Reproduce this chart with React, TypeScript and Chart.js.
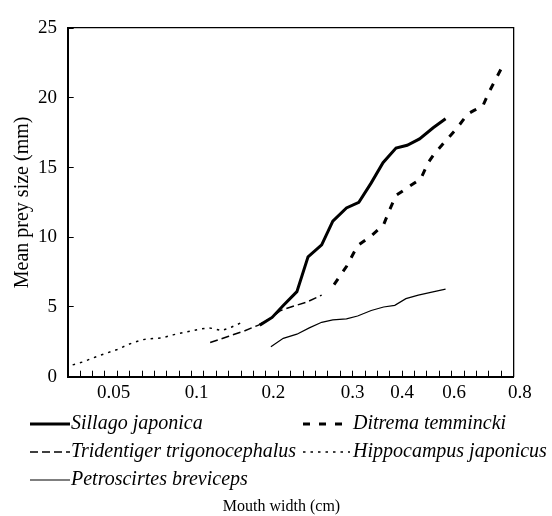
import React, { useEffect, useRef } from "react";
import { Chart, registerables } from "chart.js";

Chart.register(...registerables);

const FONT = "'Liberation Serif', 'Times New Roman', serif";

// x axis: evenly spaced divisions (0..36); mouth-width labels sit at these positions
const xTickLabels = ["0.05", "0.1", "0.2", "0.3", "0.4", "0.6", "0.8"];
const xTickPositions = [3.7, 10.4, 16.6, 23.0, 27.0, 31.2, 36.5];
const yTickStep = 5;

const seriesNames = [
  "Sillago japonica",
  "Ditrema temmincki",
  "Tridentiger trigonocephalus",
  "Hippocampus japonicus",
  "Petroscirtes breviceps",
];

// positions on the x axis (division units) and mean prey size (mm)
const sillagoX = [15.5, 16.5, 17.4, 18.5, 19.4, 20.5, 21.4, 22.5, 23.5, 24.5, 25.45, 26.5, 27.4, 28.4, 29.5, 30.5];
const sillagoY = [3.7, 4.25, 5.1, 6.1, 8.6, 9.45, 11.15, 12.1, 12.5, 13.9, 15.35, 16.4, 16.6, 17.05, 17.85, 18.5];

const ditremaX = [21.5, 22.5, 23.4, 24.5, 25.5, 26.0, 26.5, 27.5, 28.5, 29.1, 29.6, 30.3, 31.4, 32.3, 32.8, 33.5, 34.0, 35.0];
const ditremaY = [6.6, 7.9, 9.4, 10.1, 10.9, 12.0, 13.0, 13.6, 14.2, 15.35, 16.0, 16.7, 17.8, 18.85, 19.1, 19.4, 20.4, 22.1];

const tridentigerX = [11.5, 13.0, 14.3, 15.4, 16.3, 17.2, 18.2, 19.3, 20.5];
const tridentigerY = [2.45, 2.9, 3.3, 3.7, 4.15, 4.75, 5.05, 5.35, 5.85];

const hippocampusX = [0.4, 1.2, 2.2, 3.0, 4.0, 5.0, 6.0, 7.0, 7.6, 8.5, 9.5, 10.6, 11.3, 11.8, 12.4, 13.2, 14.2];
const hippocampusY = [0.85, 1.05, 1.4, 1.65, 1.95, 2.35, 2.65, 2.75, 2.78, 3.0, 3.2, 3.4, 3.5, 3.45, 3.3, 3.55, 3.95];

const petroscirtesX = [16.4, 17.4, 18.5, 19.5, 20.5, 21.4, 22.5, 23.4, 24.5, 25.5, 26.4, 27.3, 28.3, 29.3, 30.5];
const petroscirtesY = [2.15, 2.75, 3.05, 3.5, 3.9, 4.07, 4.15, 4.35, 4.75, 5.0, 5.12, 5.6, 5.85, 6.05, 6.28];

const toPoints = (xs: number[], ys: number[]) => xs.map((x, i) => ({ x, y: ys[i] }));

// legend grid placement (column, row) per series
const legendCol = [0, 1, 0, 1, 0];
const legendRow = [0, 0, 1, 1, 2];

const speciesLegend = {
  id: "speciesLegend",
  afterDraw(chart: any, _args: any, opts: any) {
    const ctx = chart.ctx;
    chart.data.datasets.forEach((ds: any, i: number) => {
      const c = legendCol[i];
      const r = legendRow[i];
      const x0 = opts.lineStart[c];
      const x1 = opts.lineEnd[c];
      const y = opts.rowY[r];
      ctx.save();
      ctx.strokeStyle = ds.borderColor;
      ctx.lineWidth = ds.borderWidth;
      ctx.setLineDash(ds.borderDash || []);
      ctx.beginPath();
      ctx.moveTo(x0, y);
      ctx.lineTo(x1, y);
      ctx.stroke();
      ctx.setLineDash([]);
      ctx.fillStyle = "#000";
      ctx.font = `italic ${opts.fontSize}px ${FONT}`;
      ctx.textBaseline = "middle";
      ctx.textAlign = "left";
      ctx.fillText(ds.label, opts.textStart[c], y);
      ctx.restore();
    });
  },
};

export default function App() {
  const canvasRef = useRef<HTMLCanvasElement | null>(null);

  useEffect(() => {
    if (!canvasRef.current) return;
    const common = { borderColor: "#000", pointRadius: 0, fill: false, tension: 0 };
    const chart = new Chart(canvasRef.current, {
      type: "line",
      data: {
        datasets: [
          { ...common, label: seriesNames[0], data: toPoints(sillagoX, sillagoY), borderWidth: 3 },
          { ...common, label: seriesNames[1], data: toPoints(ditremaX, ditremaY), borderWidth: 3, borderDash: [7, 9] },
          { ...common, label: seriesNames[2], data: toPoints(tridentigerX, tridentigerY), borderWidth: 1.5, borderDash: [8, 4] },
          { ...common, label: seriesNames[3], data: toPoints(hippocampusX, hippocampusY), borderWidth: 1.5, borderDash: [2.5, 5] },
          { ...common, label: seriesNames[4], data: toPoints(petroscirtesX, petroscirtesY), borderWidth: 1.2 },
        ],
      },
      options: {
        animation: false,
        responsive: true,
        maintainAspectRatio: false,
        layout: { padding: { left: 11, right: 0, top: 18.4, bottom: 0 } },
        plugins: {
          legend: { display: false },
          tooltip: { enabled: false },
          title: {
            display: true,
            position: "bottom",
            fullSize: true,
            text: "Mouth width (cm)",
            color: "#000",
            font: { family: FONT, size: 16, weight: "normal" },
            padding: { top: 6, bottom: 0 },
          },
          speciesLegend: {
            lineStart: [30, 303],
            lineEnd: [70, 350],
            textStart: [71, 353],
            rowY: [424, 452, 480],
            fontSize: 20,
          },
        } as any,
        scales: {
          x: {
            type: "linear",
            position: "bottom",
            min: 0,
            max: 36,
            weight: 1,
            afterBuildTicks: (s: any) => {
              s.ticks = xTickPositions.map((v) => ({ value: v }));
            },
            ticks: {
              autoSkip: false,
              maxRotation: 0,
              padding: 5,
              color: "#000",
              font: { family: FONT, size: 19 },
              callback: (_v: any, i: number) => xTickLabels[i],
            },
            grid: { display: false, drawTicks: false },
            border: { display: false },
            afterFit: (s: any) => {
              s.height = 114.1;
            },
          },
          xMinor: {
            type: "linear",
            position: "bottom",
            min: 0,
            max: 36,
            weight: 0,
            ticks: { display: false, stepSize: 1 },
            grid: { drawOnChartArea: false, drawTicks: true, tickLength: -6, color: "#000", lineWidth: 1 },
            border: { display: true, color: "#000", width: 2 },
            afterFit: (s: any) => {
              s.height = 0;
            },
          },
          xTop: {
            type: "linear",
            position: "top",
            min: 0,
            max: 36,
            ticks: { display: false },
            grid: { display: false },
            border: { display: true, color: "#000", width: 1.3 },
            afterFit: (s: any) => {
              s.height = 0;
            },
          },
          y: {
            type: "linear",
            position: "left",
            min: 0,
            max: 25,
            ticks: {
              stepSize: yTickStep,
              padding: 16.7,
              color: "#000",
              font: { family: FONT, size: 19 },
            },
            grid: { drawOnChartArea: false, drawTicks: true, tickLength: -6, color: "#000", lineWidth: 1 },
            border: { display: true, color: "#000", width: 2 },
            title: {
              display: true,
              text: "Mean prey size (mm)",
              color: "#000",
              font: { family: FONT, size: 20 },
              padding: { top: 0, bottom: 0 },
            },
            afterFit: (s: any) => {
              s.width = 56.7;
            },
          },
          yRight: {
            type: "linear",
            position: "right",
            min: 0,
            max: 25,
            ticks: { display: false },
            grid: { display: false },
            border: { display: true, color: "#000", width: 1.3 },
            afterFit: (s: any) => {
              s.width = 38.3;
            },
          },
        } as any,
      },
      plugins: [speciesLegend],
    });
    return () => chart.destroy();
  }, []);

  return (
    <div style={{ position: "fixed", left: 0, top: 0, width: 552, height: 516, background: "#fff" }}>
      <canvas ref={canvasRef} />
    </div>
  );
}
